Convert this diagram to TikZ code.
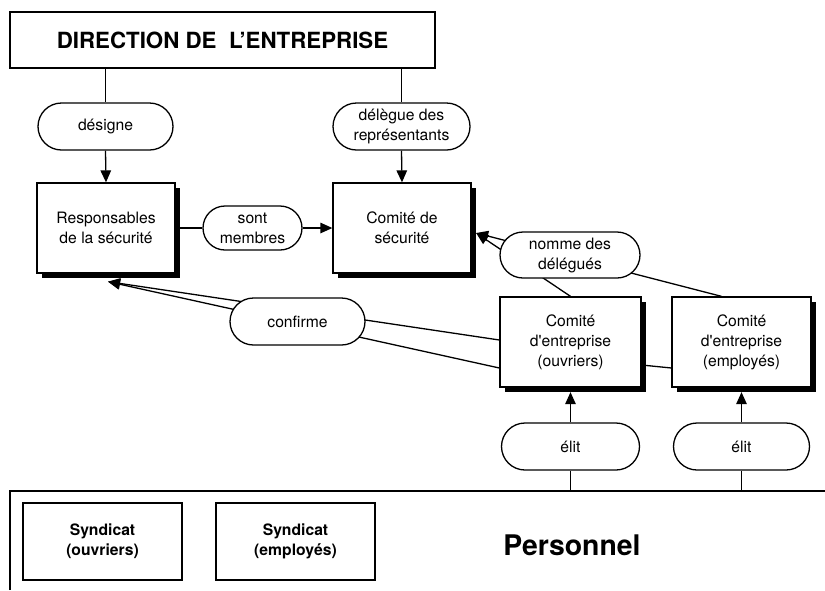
\documentclass[tikz,border=0pt]{standalone}
\usepackage{fontspec}
\setmainfont{TeX Gyre Heros}
\usetikzlibrary{shapes.misc,shadows,arrows.meta}
\pgfdeclarelayer{bg}
\pgfsetlayers{bg,main}
\begin{document}
\begin{tikzpicture}[x=1pt,y=-1pt,
  lbl/.style={font=\fontsize{15.7}{20}\selectfont, align=center},
  pill/.style={lbl, draw, line width=1.3pt, rounded rectangle, fill=white, inner sep=0pt, minimum height=47pt},
  sbox/.style={lbl, draw, line width=1.3pt, fill=white, inner sep=0pt, minimum height=90pt,
    general shadow={fill=black, shadow xshift=4.5pt, shadow yshift=-4.5pt}},
  plainbox/.style={draw, line width=1.3pt, fill=white, inner sep=0pt, align=center},
  conn/.style={line width=1.3pt},
  arr/.style={conn, -{Triangle[length=12pt,width=10.5pt]}}
]
\useasboundingbox (0,0) rectangle (825,590);
\begin{pgfonlayer}{bg}
\fill[white] (0,0) rectangle (825,590);
\end{pgfonlayer}

\node[plainbox, minimum width=425pt, minimum height=56pt, font=\bfseries\fontsize{22.3}{26}\selectfont] (dir) at (222.5,40) {DIRECTION DE\ \ L’ENTREPRISE};

\node[pill, minimum width=135pt] (des) at (105.5,126.5) {désigne};
\node[pill, minimum width=137pt] (del) at (401.5,126.5) {délègue des\\représentants};
\node[sbox, minimum width=138pt] (resp) at (106,228) {Responsables\\de la sécurité};
\node[sbox, minimum width=138pt] (csec) at (402,228) {Comité de\\sécurité};
\node[pill, minimum width=99pt, minimum height=44pt] (sont) at (252.5,228) {sont\\membres};
\node[sbox, minimum width=141pt] (ceo) at (570.5,342) {Comité\\d\textquotesingle entreprise\\(ouvriers)};
\node[sbox, minimum width=139pt] (cee) at (741.5,342) {Comité\\d\textquotesingle entreprise\\(employés)};
\node[pill, minimum width=140pt, minimum height=46pt] (nom) at (570,255) {nomme des\\délégués};
\node[pill, minimum width=135pt] (conf) at (297.5,321.5) {confirme};
\node[pill, minimum width=138pt] (el1) at (570.5,446.5) {élit};
\node[pill, minimum width=136pt] (el2) at (741.5,446.5) {élit};

\coordinate (pl) at (10,491);
\coordinate (pr) at (825,491);
\coordinate (pb) at (10,590);
\node[plainbox, minimum width=159pt, minimum height=77pt, font=\bfseries\fontsize{15.7}{20}\selectfont] (syo) at (102.5,541.5) {Syndicat\\(ouvriers)};
\node[plainbox, minimum width=159pt, minimum height=77pt, font=\bfseries\fontsize{15.7}{20}\selectfont] (sye) at (295.5,541.5) {Syndicat\\(employés)};
\node[font=\bfseries\fontsize{28.4}{32}\selectfont, inner sep=0pt] (pers) at (572,545) {Personnel};

\coordinate (ctip) at ([xshift=4.5pt,yshift=-5pt]csec.east);
\coordinate (rtip) at ([xshift=2pt,yshift=-8pt]resp.south);

\begin{pgfonlayer}{bg}
\draw[conn] (des.north |- dir.south) -- (des.north);
\draw[arr] (des.south) -- (resp.north);
\draw[conn] (del.north |- dir.south) -- (del.north);
\draw[arr] (del.south) -- (csec.north);
\draw[conn] (resp.east) -- (sont.west);
\draw[arr] (sont.east) -- (csec.west);
\draw[arr] (ceo.north) -- (ctip);
\draw[arr] ([xshift=-20pt]cee.north) -- (ctip);
\draw[arr] ([yshift=2pt]ceo.west) -- (rtip);
\draw[arr] ([yshift=-26pt]ceo.west) -- (rtip);
\draw[conn] ([yshift=-23pt]ceo.east) -- ([yshift=-26pt]cee.west);
\draw[arr] (el1.north) -- ([yshift=-4.5pt]ceo.south);
\draw[arr] (el2.north) -- ([yshift=-4.5pt]cee.south);
\draw[conn] (el1.south) -- (el1.south |- pl);
\draw[conn] (el2.south) -- (el2.south |- pl);
\draw[conn] (pb) -- (pl) -- (pr);
\end{pgfonlayer}
\end{tikzpicture}
\end{document}
